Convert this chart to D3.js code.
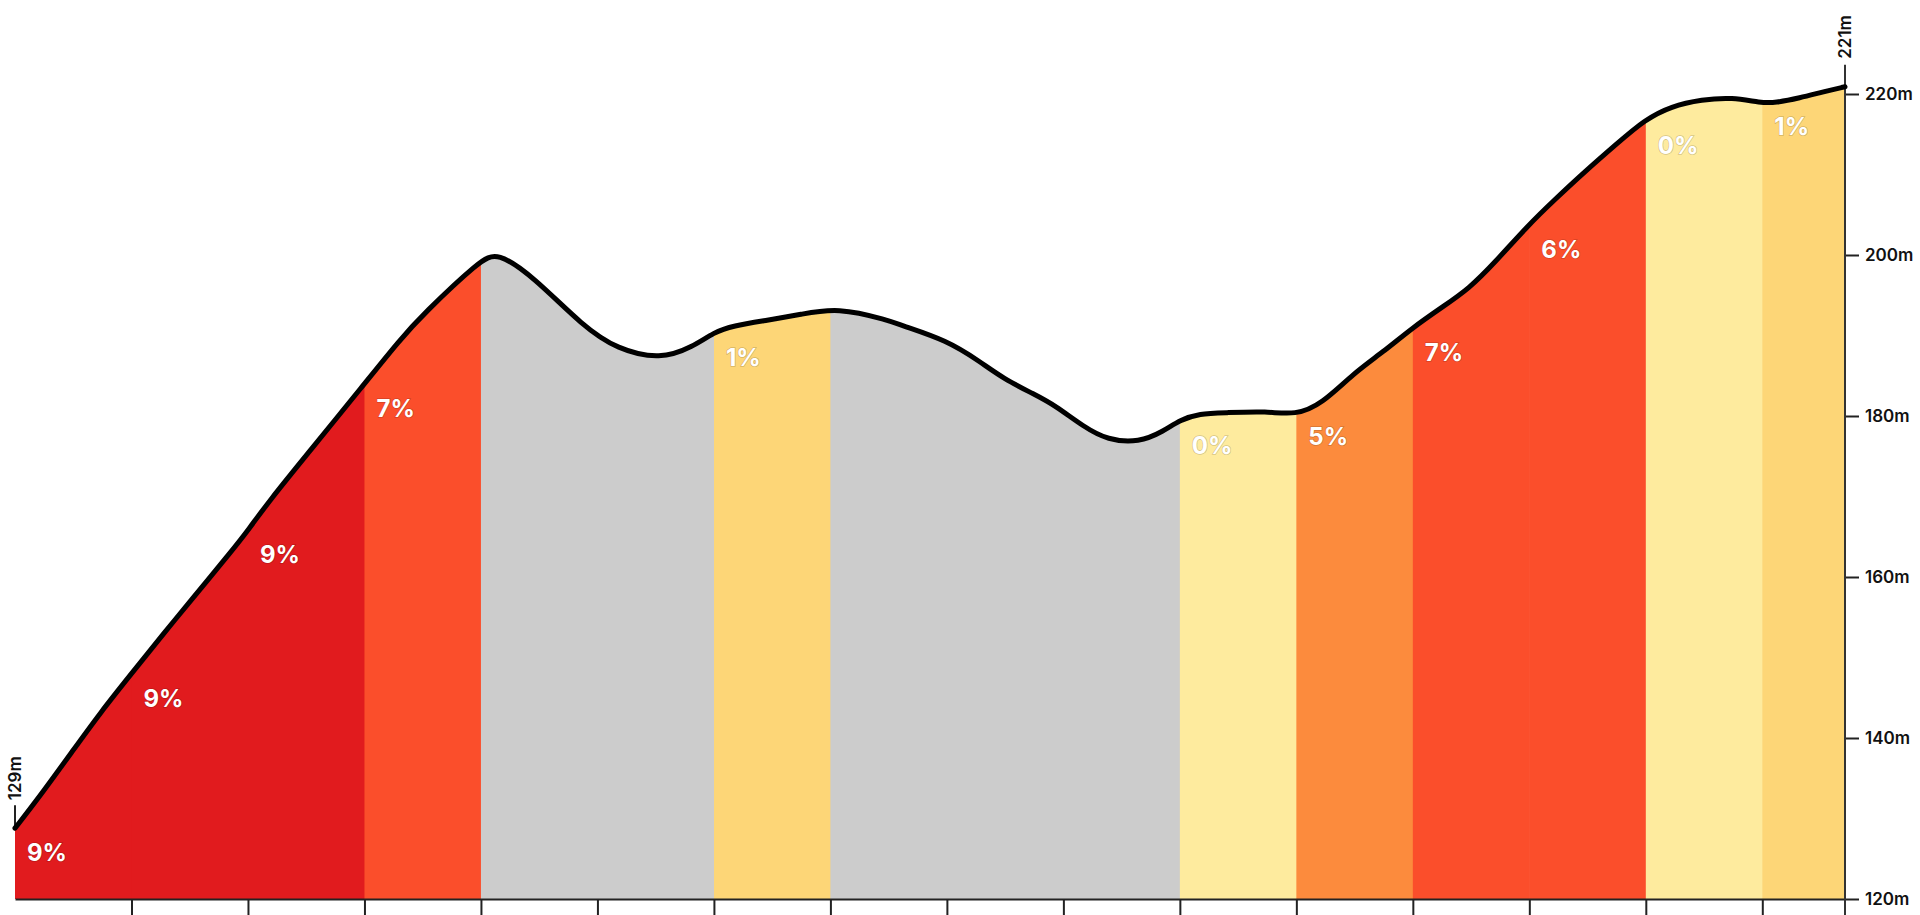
<!DOCTYPE html>
<html>
<head>
<meta charset="utf-8">
<script src="https://cdn.jsdelivr.net/npm/d3@7"></script>
<style>
	html, body { margin: 0; padding: 0; background: #ffffff; }
	svg { display: block; }
	text { font-family: Inter, "Open Sans", sans-serif; }
</style>
</head>
<body>
<div id="profile"></div>
<script>
var width = 1920,
	height = 915;

// distance along the climb (m) and elevation (m)
var distance = [0, 20, 50, 73, 100, 130, 150, 187, 200, 219, 250, 300, 330, 350, 399, 414, 445, 488, 517, 554, 582, 600, 616, 646, 674, 706, 750, 760, 800, 828, 849, 875, 893, 917, 938, 965, 986, 1000, 1017, 1038, 1075, 1099, 1122, 1149, 1175, 1199, 1227, 1248, 1270, 1299, 1322, 1348, 1375, 1399, 1422, 1448, 1474, 1499, 1511, 1532, 1553, 1571];
var elevation = [128.8, 132.5, 138.5, 143.1, 148.0, 153.4, 156.9, 163.4, 165.8, 169.6, 175.1, 184.0, 189.4, 192.6, 199.3, 200.4, 197.3, 191.1, 188.3, 187.0, 188.6, 190.4, 191.2, 191.9, 192.6, 193.5, 191.9, 191.3, 189.4, 186.8, 184.6, 182.7, 181.3, 178.7, 177.0, 176.7, 178.1, 179.5, 180.3, 180.4, 180.6, 180.1, 181.5, 185.3, 188.0, 190.9, 193.7, 195.8, 199.0, 203.7, 206.9, 210.4, 213.8, 216.8, 218.5, 219.3, 219.6, 218.9, 218.9, 219.5, 220.3, 220.9];

// 100m sections: start distance and gradient (null = descending)
var sectionStart = [0, 100, 200, 300, 400, 600, 700, 1000, 1100, 1200, 1300, 1400, 1500];
var sectionGrade = [9, 9, 9, 7, null, 1, null, 0, 5, 7, 6, 0, 1];
var sectionLabel = [true, true, true, true, false, true, false, true, true, true, true, true, true];

var elevTicks = [120, 140, 160, 180, 200, 220];
var distTicks = [100, 200, 300, 400, 500, 600, 700, 800, 900, 1000, 1100, 1200, 1300, 1400, 1500];

var points = distance.map(function(d, i) { return {d: d, e: elevation[i]}; });
var totalDist = distance[distance.length - 1];

var x = d3.scaleLinear().domain([0, totalDist]).range([15, 1845]);
var y = d3.scaleLinear().domain([120, 220]).range([899, 94]);

var gradeColor = d3.scaleThreshold()
	.domain([1, 2, 6, 8])
	.range(['#feeb9e', '#fdd677', '#fc8b3d', '#fb4e2b', '#e11b1e']);

function colorOf(g) {
	return g === null ? '#cccccc' : gradeColor(g);
}

var svg = d3.select('#profile').append('svg')
	.attr('width', width)
	.attr('height', height);

var curve = d3.curveBasis;

var area = d3.area()
	.x(function(p) { return x(p.d); })
	.y0(y(120))
	.y1(function(p) { return y(p.e); })
	.curve(curve);

var line = d3.line()
	.x(function(p) { return x(p.d); })
	.y(function(p) { return y(p.e); })
	.curve(curve);

// y of the drawn line at a given pixel x
var lineNode = svg.append('path').attr('d', line(points)).attr('fill', 'none');
var pathLen = lineNode.node().getTotalLength();
function lineYAt(px) {
	var lo = 0, hi = pathLen;
	for (var k = 0; k < 40; k++) {
		var mid = (lo + hi) / 2;
		if (lineNode.node().getPointAtLength(mid).x < px) lo = mid; else hi = mid;
	}
	return lineNode.node().getPointAtLength(lo).y;
}
lineNode.remove();

var sections = sectionStart.map(function(s, i) {
	return {
		start: s,
		end: i < sectionStart.length - 1 ? sectionStart[i + 1] : totalDist,
		grade: sectionGrade[i],
		label: sectionLabel[i]
	};
});

var defs = svg.append('defs');
defs.selectAll('clipPath')
	.data(sections)
	.enter()
	.append('clipPath')
	.attr('id', function(d, i) { return 'sec' + i; })
	.append('rect')
	.attr('x', function(d) { return x(d.start); })
	.attr('y', 0)
	.attr('width', function(d, i) { return x(d.end) - x(d.start) + (i < sections.length - 1 ? 0.6 : 0); })
	.attr('height', height);

svg.append('g')
	.selectAll('path')
	.data(sections)
	.enter()
	.append('path')
	.attr('clip-path', function(d, i) { return 'url(#sec' + i + ')'; })
	.attr('d', area(points))
	.style('fill', function(d) { return colorOf(d.grade); });

// bottom axis
var xAxis = d3.axisBottom(x)
	.tickValues(distTicks)
	.tickSize(16)
	.tickSizeOuter(0)
	.tickFormat('');

var gx = svg.append('g')
	.attr('transform', 'translate(0,' + y(120) + ')')
	.call(xAxis);
gx.select('.domain').attr('stroke', '#222').attr('stroke-width', 2);
gx.selectAll('.tick line').attr('stroke', '#222').attr('stroke-width', 2);

// right axis
var yAxis = d3.axisRight(y)
	.tickValues(elevTicks)
	.tickSize(14)
	.tickPadding(6)
	.tickFormat(function(d) { return d + 'm'; });

var gy = svg.append('g')
	.attr('transform', 'translate(' + x(totalDist) + ',0)')
	.call(yAxis);
gy.select('.domain').remove();
gy.selectAll('.tick line').attr('stroke', '#222').attr('stroke-width', 2);
gy.selectAll('.tick text')
	.style('font-size', '17px')
	.style('font-weight', 600)
	.style('fill', '#111');

var endY = y(elevation[elevation.length - 1]);
var startY = y(elevation[0]);

svg.append('line')
	.attr('x1', x(totalDist)).attr('x2', x(totalDist))
	.attr('y1', endY - 22).attr('y2', height)
	.attr('stroke', '#333')
	.attr('stroke-width', 2);

svg.append('line')
	.attr('x1', x(0)).attr('x2', x(0))
	.attr('y1', startY).attr('y2', startY - 23)
	.attr('stroke', '#222')
	.attr('stroke-width', 2);

// elevation line
svg.append('path')
	.attr('d', line(points))
	.style('fill', 'none')
	.style('stroke', '#000')
	.style('stroke-width', 5)
	.style('stroke-linecap', 'round')
	.style('stroke-linejoin', 'round');

// start / end elevation labels
[[0, elevation[0]], [totalDist, elevation[elevation.length - 1]]].forEach(function(p) {
	var px = x(p[0]), py = y(p[1]) - 28;
	svg.append('text')
		.attr('transform', 'translate(' + (px + 6) + ',' + py + ') rotate(-90)')
		.attr('text-anchor', 'start')
		.style('font-size', '17px')
		.style('font-weight', 600)
		.style('fill', '#111')
		.text(Math.round(p[1]) + 'm');
});

// gradient labels
svg.append('g')
	.selectAll('text')
	.data(sections.filter(function(d) { return d.label; }))
	.enter()
	.append('text')
	.attr('x', function(d) { return x(d.start) + 12; })
	.attr('y', function(d) { return lineYAt(x(d.start)) + 33; })
	.style('font-size', '24px')
	.style('font-weight', 700)
	.style('fill', '#ffffff')
	.style('stroke', 'rgba(0,0,0,0.18)')
	.style('stroke-width', 1.5)
	.style('paint-order', 'stroke')
	.text(function(d) { return d.grade + '%'; });
</script>
</body>
</html>
